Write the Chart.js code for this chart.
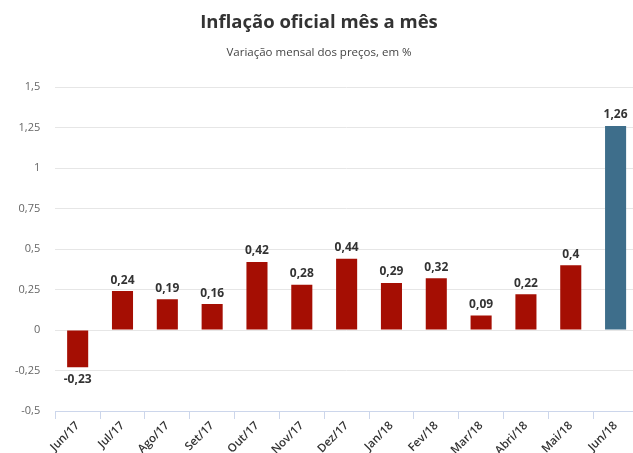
<!DOCTYPE html>
<html>
<head>
<meta charset="utf-8">
<script src="https://cdn.jsdelivr.net/npm/chart.js@4/dist/chart.umd.min.js"></script>
<style>
html,body{margin:0;padding:0;background:#fff;overflow:hidden;width:633px;height:453px;}
#wrap{position:absolute;left:0;top:0;width:645px;height:453px;}
</style>
</head>
<body>
<div id="wrap"><canvas id="c" width="645" height="453"></canvas></div>
<script>
const categories = ["Jun/17","Jul/17","Ago/17","Set/17","Out/17","Nov/17","Dez/17","Jan/18","Fev/18","Mar/18","Abri/18","Mai/18","Jun/18"];
const values = [-0.23, 0.24, 0.19, 0.16, 0.42, 0.28, 0.44, 0.29, 0.32, 0.09, 0.22, 0.4, 1.26];
const highlightIndex = 12;
const titleText = "Inflação oficial mês a mês";
const subtitleText = "Variação mensal dos preços, em %";

const fmt = v => String(v).replace('.', ',');

const labelPlugin = {
  id: 'valueLabels',
  afterDatasetsDraw(chart) {
    const ctx = chart.ctx;
    const meta = chart.getDatasetMeta(0);
    ctx.save();
    ctx.font = 'bold 12px "Open Sans"';
    ctx.fillStyle = '#333333';
    ctx.textAlign = 'center';
    meta.data.forEach((bar, i) => {
      const v = values[i];
      if (v >= 0) {
        ctx.textBaseline = 'bottom';
        ctx.fillText(fmt(v), bar.x, bar.y - 5);
      } else {
        ctx.textBaseline = 'top';
        ctx.fillText(fmt(v), bar.x, bar.y + 6);
      }
    });
    ctx.restore();
  }
};

new Chart(document.getElementById('c'), {
  type: 'bar',
  data: {
    labels: categories,
    datasets: [{
      data: values,
      backgroundColor: values.map((v, i) => i === highlightIndex ? '#3E6E8B' : '#A50E03'),
      barPercentage: 0.47,
      categoryPercentage: 1
    }]
  },
  options: {
    responsive: false,
    animation: false,
    layout: { padding: { left: 0, right: 7, top: 0, bottom: 0 } },
    plugins: {
      legend: { display: false },
      tooltip: { enabled: false },
      title: {
        display: true, text: titleText, color: '#333333',
        font: { family: '"Open Sans"', size: 18.5, weight: 'bold' },
        padding: { top: 12, bottom: 8 }
      },
      subtitle: {
        display: true, text: subtitleText, color: '#444444',
        font: { family: '"Open Sans"', size: 11.5 },
        padding: { top: 4, bottom: 27 }
      }
    },
    scales: {
      y: {
        min: -0.5, max: 1.5,
        ticks: {
          stepSize: 0.25, color: '#666666', padding: 15,
          font: { family: '"Open Sans"', size: 11 },
          callback: v => fmt(v)
        },
        grid: { color: '#e6e6e6', drawTicks: false },
        border: { display: false }
      },
      x: {
        offset: true,
        afterFit: s => { s.height = 42; },
        ticks: {
          color: '#333333', autoSkip: false, maxRotation: 45, minRotation: 45, padding: 0,
          font: { family: '"Open Sans"', size: 11.5, weight: '600' }
        },
        grid: { display: true, drawOnChartArea: false, offset: true, tickLength: 8, color: '#ccd6eb' },
        border: { display: true, color: '#ccd6eb' }
      }
    }
  },
  plugins: [labelPlugin]
});
</script>
</body>
</html>
